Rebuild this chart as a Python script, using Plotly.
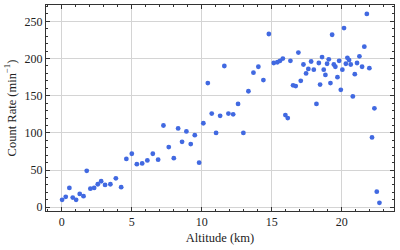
import plotly.graph_objects as go

altitude_km = [0.02, 0.28, 0.54, 0.78, 1.02, 1.28, 1.55, 1.78, 2.04, 2.31, 2.57, 2.81, 3.09, 3.47, 3.86, 4.24,
               4.61, 5.0, 5.36, 5.74, 6.11, 6.5, 6.88, 7.26, 7.64, 8.0, 8.31, 8.59, 8.9, 9.21, 9.5, 9.81,
               10.11, 10.43, 10.71, 11.02, 11.31, 11.61, 11.9, 12.24, 12.59, 12.97, 13.33, 13.69, 14.04, 14.4,
               14.79, 15.14, 15.4, 15.59, 15.79, 15.97, 16.14, 16.33, 16.52, 16.71, 16.9, 17.07, 17.26, 17.45,
               17.61, 17.81, 18.0, 18.19, 18.36, 18.45, 18.59, 18.71, 18.83, 18.95, 19.07, 19.19, 19.31, 19.43,
               19.54, 19.69, 19.81, 19.93, 20.04, 20.16, 20.29, 20.4, 20.52, 20.64, 20.79, 20.93, 21.09, 21.26,
               21.45, 21.61, 21.79, 21.97, 22.16, 22.33, 22.5, 22.69]
count_rate = [10, 14, 26, 13, 10, 18, 15, 49, 25, 26, 31, 35, 30, 31, 39, 27,
              65, 72, 58, 59, 63, 72, 64, 110, 81, 66, 106, 88, 102, 85, 97, 60,
              113, 167, 126, 100, 123, 190, 126, 125, 139, 100, 156, 181, 189, 171,
              233, 194, 195, 197, 200, 124, 120, 197, 164, 163, 208, 170, 192, 180,
              186, 196, 185, 139, 194, 165, 202, 185, 178, 193, 199, 167, 232, 192,
              189, 175, 197, 158, 185, 241, 193, 201, 198, 192, 149, 179, 194, 203,
              189, 216, 260, 187, 94, 133, 21, 6]

x_ticks = [0, 5, 10, 15, 20]
y_ticks = [0, 50, 100, 150, 200, 250]

fig = go.Figure(go.Scatter(
    x=altitude_km, y=count_rate, mode="markers",
    marker=dict(color="#4169E1", size=4.8, line=dict(width=0)),
))

font = "Liberation Serif"
axis_common = dict(
    showline=True, linecolor="#333", linewidth=1, mirror="ticks",
    ticks="inside", ticklen=4, tickcolor="#333", tickwidth=1,
    showgrid=True, gridcolor="#d4d4d4", gridwidth=1, zeroline=False,
    tickfont=dict(family=font, size=12, color="#222"),
)
fig.update_xaxes(
    range=[-1.13, 23.73], tickvals=x_ticks,
    minor=dict(dtick=1, ticks="inside", ticklen=2, tickcolor="#333", showgrid=False),
    title=dict(text="Altitude (km)", font=dict(family=font, size=12.5, color="#222"), standoff=4),
    **axis_common,
)
fig.update_yaxes(
    range=[-5, 272], tickvals=y_ticks,
    minor=dict(dtick=10, ticks="inside", ticklen=2, tickcolor="#333", showgrid=False),
    title=dict(text="Count Rate (min<sup>−1</sup>)", font=dict(family=font, size=12.5, color="#222"), standoff=5),
    **axis_common,
)
fig.update_layout(
    width=400, height=250,
    margin=dict(l=46, r=6, t=5, b=39, autoexpand=False),
    plot_bgcolor="white", paper_bgcolor="white",
    font=dict(family=font),
    showlegend=False,
)
fig.write_html("out.html", config={"displayModeBar": False},
               post_script="document.body.style.margin='0';")
